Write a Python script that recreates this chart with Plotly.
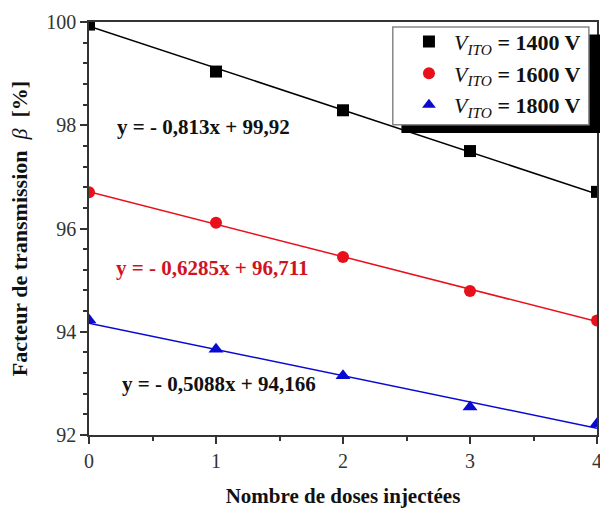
import plotly.graph_objects as go

doses = [0, 1, 2, 3, 4]
beta_1400 = [99.95, 99.04, 98.29, 97.50, 96.71]
beta_1600 = [96.70, 96.11, 95.45, 94.79, 94.22]
beta_1800 = [94.23, 93.66, 93.15, 92.54, 92.22]

series_names = ["<i>V</i><sub><i>ITO</i></sub><b> = 1400 V</b>",
                "<i>V</i><sub><i>ITO</i></sub><b> = 1600 V</b>",
                "<i>V</i><sub><i>ITO</i></sub><b> = 1800 V</b>"]
fit_slopes = [-0.813, -0.6285, -0.5088]
fit_intercepts = [99.92, 96.711, 94.166]
fit_labels = ["y = - 0,813x + 99,92", "y = - 0,6285x + 96,711", "y = - 0,5088x + 94,166"]

colors = ["#000000", "#e8101a", "#0a0ad0"]
text_colors = ["#111111", "#d0141e", "#111111"]
symbols = ["square", "circle", "triangle-up"]
label_pos = [(0.905, 97.97), (0.97, 95.23), (1.02, 92.98)]

FONT = "Liberation Serif, Times New Roman, serif"

fig = go.Figure()
all_series = [beta_1400, beta_1600, beta_1800]
x_fit = [doses[0], doses[-1]]
for i, ys in enumerate(all_series):
    y_fit = [fit_slopes[i] * x + fit_intercepts[i] for x in x_fit]
    fig.add_trace(go.Scatter(x=x_fit, y=y_fit, mode="lines",
                             line=dict(color=colors[i], width=1.5),
                             showlegend=False, hoverinfo="skip"))
for i, ys in enumerate(all_series):
    fig.add_trace(go.Scatter(x=doses, y=ys, mode="markers", name=series_names[i],
                             marker=dict(symbol=symbols[i], color=colors[i],
                                         size=12 if i < 2 else 13, line=dict(width=0))))

for i, (lx, ly) in enumerate(label_pos):
    fig.add_annotation(x=lx, y=ly, text="<b>" + fit_labels[i] + "</b>", showarrow=False,
                       font=dict(family=FONT, size=21, color=text_colors[i]))

# legend box with shadow
fig.add_shape(type="rect", xref="paper", yref="paper",
              x0=0.615, x1=1.01, y0=0.731, y1=0.97,
              fillcolor="black", line=dict(width=0), layer="above")
fig.add_shape(type="rect", xref="paper", yref="paper",
              x0=0.598, x1=0.984, y0=0.751, y1=0.988,
              fillcolor="white", line=dict(color="#888888", width=1.5), layer="above")

axis_common = dict(showgrid=False, zeroline=False, showline=True, linecolor="#333333",
                   linewidth=1.5, mirror=True, ticks="outside", ticklen=7, tickwidth=1.5,
                   tickcolor="#333333", automargin=False, ticklabeloverflow="allow",
                   tickfont=dict(family=FONT, size=20, color="#333333"))

fig.update_layout(
    width=600, height=515,
    margin=dict(l=89, r=3, t=22, b=80),
    paper_bgcolor="white", plot_bgcolor="white",
    font=dict(family=FONT, color="#111111"),
    xaxis=dict(range=[0, 4], tickvals=[0, 1, 2, 3, 4],
               minor=dict(dtick=0.5, ticks="outside", ticklen=4, tickwidth=1.5, tickcolor="#333333"),
               title=dict(text="<b>Nombre de doses injectées</b>",
                          font=dict(family=FONT, size=21), standoff=18),
               **axis_common),
    yaxis=dict(range=[92, 100], tickvals=[92, 94, 96, 98, 100],
               minor=dict(dtick=0.4, ticks="outside", ticklen=4, tickwidth=1.5, tickcolor="#333333"),
               title=dict(text="<b>Facteur de transmission  </b><i>β</i><b>  [%]</b>",
                          font=dict(family=FONT, size=22), standoff=13),
               **axis_common),
    legend=dict(x=0.62, xanchor="left", y=1.003, yanchor="top",
                bgcolor="rgba(0,0,0,0)", borderwidth=0,
                font=dict(family=FONT, size=22, color="#111111"),
                itemsizing="constant", itemwidth=40, tracegroupgap=0),
)

fig.write_html("out.html", config={"displayModeBar": False},
               post_script="document.body.style.margin='0px';document.body.style.overflow='hidden';")
